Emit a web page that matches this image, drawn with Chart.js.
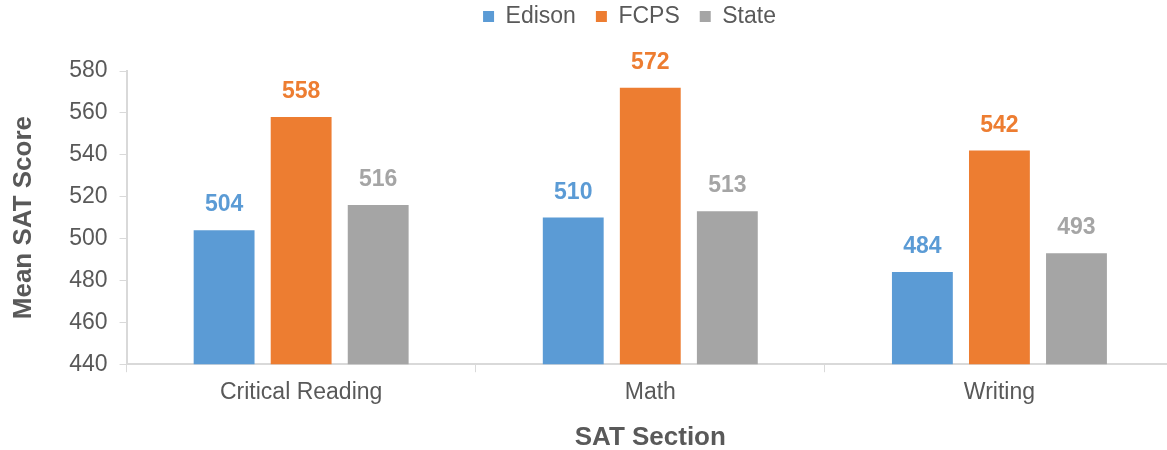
<!DOCTYPE html>
<html>
<head>
<meta charset="utf-8">
<script src="https://cdn.jsdelivr.net/npm/chart.js@4"></script>
<style>
  html, body { margin: 0; padding: 0; background: #fff; }
  #wrap { width: 1167px; height: 450px; }
</style>
</head>
<body>
<div id="wrap"><canvas id="chart1"></canvas></div>
<script>
var sections = ["Critical Reading", "Math", "Writing"];
var edison = [504, 510, 484];
var fcps = [558, 572, 542];
var state = [516, 513, 493];
var yTicks = [440, 460, 480, 500, 520, 540, 560, 580];

var textColor = "#595959";
var lineColor = "#d9d9d9";
var font = "'Liberation Sans', Arial, sans-serif";

// value labels above each bar, in the bar's colour
var barLabels = {
  id: "barLabels",
  afterDatasetsDraw: function(chart) {
    var ctx = chart.ctx;
    ctx.save();
    ctx.font = "bold 23px " + font;
    ctx.textAlign = "center";
    ctx.textBaseline = "alphabetic";
    chart.data.datasets.forEach(function(ds, i) {
      var meta = chart.getDatasetMeta(i);
      meta.data.forEach(function(bar, j) {
        ctx.fillStyle = ds.backgroundColor;
        ctx.fillText(ds.data[j], bar.x, bar.y - 19);
      });
    });
    ctx.restore();
  }
};

// room under the legend, legend nudged right, plot runs past the right edge
var layoutTweaks = {
  id: "layoutTweaks",
  beforeInit: function(chart) {
    var fit = chart.legend.fit;
    chart.legend.fit = function() {
      fit.bind(chart.legend)();
      this.height += 33;
    };
  },
  afterLayout: function(chart) {
    chart.legend.left += 46;
    chart.legend.right += 46;
    var x = chart.scales.x;
    x.right += 7;
    x.width += 7;
    x.configure();
    chart.chartArea.right += 7;
    chart.chartArea.width += 7;
  }
};

new Chart(document.getElementById("chart1"), {
  type: 'bar',
  data: {
    labels: sections,
    datasets: [
      { label: "Edison", data: edison, backgroundColor: "#5B9BD5" },
      { label: "FCPS", data: fcps, backgroundColor: "#ED7D31" },
      { label: "State", data: state, backgroundColor: "#A5A5A5" }
    ]
  },
  options: {
    responsive: true,
    maintainAspectRatio: false,
    animation: false,
    layout: { padding: { left: 0, right: 0, top: -15, bottom: -3 } },
    datasets: {
      bar: { categoryPercentage: 0.662, barPercentage: 0.79 }
    },
    plugins: {
      tooltip: { enabled: false },
      legend: {
        position: 'top',
        labels: {
          color: textColor,
          font: { family: font, size: 23 },
          boxWidth: 11,
          boxHeight: 11,
          padding: 20
        }
      }
    },
    scales: {
      x: {
        offset: true,
        grid: {
          offset: true,
          drawOnChartArea: false,
          drawTicks: true,
          tickLength: 8,
          color: lineColor
        },
        border: { color: lineColor, width: 2 },
        ticks: {
          color: textColor,
          font: { family: font, size: 23 },
          padding: 7
        },
        title: {
          display: true,
          text: "SAT Section",
          color: textColor,
          font: { family: font, size: 26, weight: 'bold' },
          padding: { top: 8, bottom: 0 }
        }
      },
      y: {
        min: 440,
        max: 580,
        afterBuildTicks: function(axis) {
          axis.ticks = yTicks.map(function(v) { return { value: v }; });
        },
        grid: {
          drawOnChartArea: false,
          drawTicks: true,
          tickLength: 7,
          color: lineColor
        },
        border: { color: lineColor, width: 2 },
        ticks: {
          color: textColor,
          font: { family: font, size: 23 },
          padding: 12
        },
        title: {
          display: true,
          text: "Mean SAT Score",
          color: textColor,
          font: { family: font, size: 26, weight: 'bold' },
          padding: { top: 8, bottom: 18 }
        }
      }
    }
  },
  plugins: [barLabels, layoutTweaks]
});
</script>
</body>
</html>
